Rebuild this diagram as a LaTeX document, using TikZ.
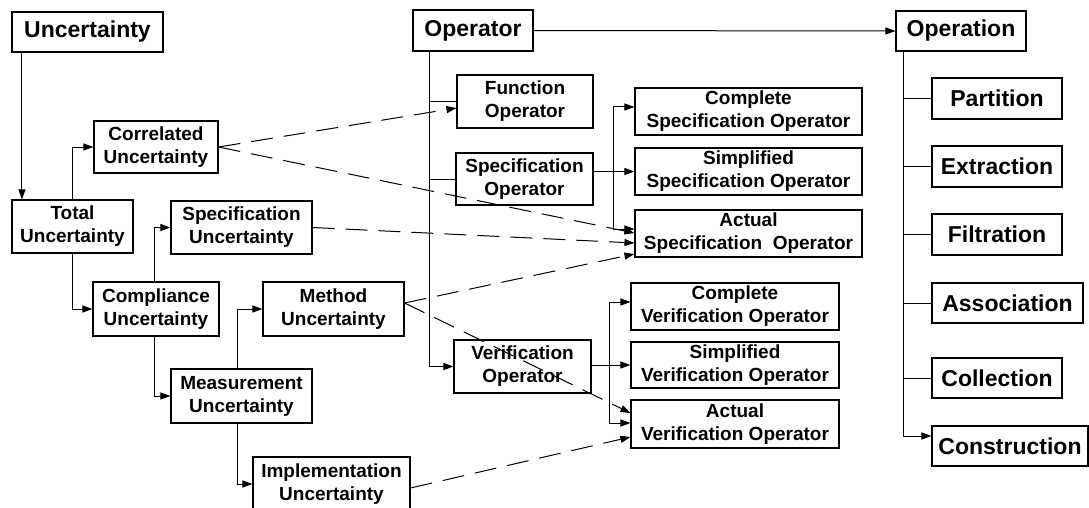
\documentclass[tikz,border=0pt]{standalone}
\usepackage{fontspec}
\setmainfont{Liberation Sans}
\usetikzlibrary{arrows.meta,calc}
\begin{document}
\begin{tikzpicture}[x=1pt,y=-1pt,
  box/.style={draw, line width=1.1pt, inner sep=0pt, align=center, fill=white,
    font=\bfseries\fontsize{19}{23}\selectfont},
  bigbox/.style={box, font=\bfseries\fontsize{23}{26}\selectfont},
  conn/.style={line width=1pt},
  arr/.style={conn, -{Triangle[length=10pt,width=7pt]}},
  darr/.style={arr, dash pattern=on 22pt off 11pt}
]
\useasboundingbox (0,0) rectangle (1089,508);
% top-level
\node[bigbox, minimum width=151pt, minimum height=40pt] (unc) at (87.5,32) {Uncertainty};
\node[bigbox, minimum width=120pt, minimum height=41pt] (op) at (473,30.5) {Operator};
\node[bigbox, minimum width=130pt, minimum height=40pt] (opn) at (961,31) {Operation};
% uncertainty tree
\node[box, minimum width=124pt, minimum height=52pt] (corr) at (156,147) {Correlated\\Uncertainty};
\node[box, minimum width=121pt, minimum height=53pt] (tot) at (72.5,226.5) {Total\\Uncertainty};
\node[box, minimum width=141pt, minimum height=53pt] (specu) at (241.5,227.5) {Specification\\Uncertainty};
\node[box, minimum width=126pt, minimum height=54pt] (comp) at (156,309) {Compliance\\Uncertainty};
\node[box, minimum width=141pt, minimum height=54pt] (meth) at (333.5,309) {Method\\Uncertainty};
\node[box, minimum width=141pt, minimum height=54pt] (meas) at (241.5,396) {Measurement\\Uncertainty};
\node[box, minimum width=157pt, minimum height=54pt] (impl) at (331.5,484) {Implementation\\Uncertainty};
% operator tree
\node[box, minimum width=136pt, minimum height=53pt] (fop) at (525,101.5) {Function\\Operator};
\node[box, minimum width=137pt, minimum height=52pt] (sop) at (524.5,179) {Specification\\Operator};
\node[box, minimum width=137pt, minimum height=53pt] (vop) at (522.5,366.5) {Verification\\Operator};
\node[box, minimum width=227pt, minimum height=47pt] (cso) at (748.5,111.5) {Complete\\Specification Operator};
\node[box, minimum width=227pt, minimum height=47pt] (sso) at (748.5,171.5) {Simplified\\Specification Operator};
\node[box, minimum width=227pt, minimum height=47pt] (aso) at (748.5,233.5) {Actual\\Specification\ \ Operator};
\node[box, minimum width=208pt, minimum height=47pt] (cvo) at (735,306.5) {Complete\\Verification Operator};
\node[box, minimum width=208pt, minimum height=46pt] (svo) at (735,365) {Simplified\\Verification Operator};
\node[box, minimum width=208pt, minimum height=48pt] (avo) at (735,424) {Actual\\Verification Operator};
% operation tree
\node[bigbox, minimum width=130pt, minimum height=41pt] (part) at (997,98.5) {Partition};
\node[bigbox, minimum width=130pt, minimum height=41pt] (extr) at (997,166.5) {Extraction};
\node[bigbox, minimum width=130pt, minimum height=41pt] (filt) at (997,234.5) {Filtration};
\node[bigbox, minimum width=151pt, minimum height=40pt] (assoc) at (1007.5,303) {Association};
\node[bigbox, minimum width=130pt, minimum height=40pt] (coll) at (997,378) {Collection};
\node[bigbox, minimum width=156pt, minimum height=40pt] (cons) at (1010,446) {Construction};

% uncertainty connectors
\draw[arr] ([xshift=10.5pt]unc.south west) -- ([xshift=10.5pt]tot.north west);
\draw[arr] (tot.north) |- (corr.west);
\draw[arr] (tot.south) |- (comp.west);
\draw[arr] ([xshift=-2pt]comp.north) |- (specu.west);
\draw[arr] ([xshift=-2pt]comp.south) |- (meas.west);
\draw[arr] ([xshift=-4.5pt]meas.north) |- (meth.west);
\draw[arr] ([xshift=-4.5pt]meas.south) |- (impl.west);

% operator connectors
\coordinate (otrunk) at ([xshift=17pt]op.south west);
\draw[arr] (otrunk) |- (vop.west);
\draw[conn] (otrunk |- fop.west) -- (fop.west);
\draw[conn] (otrunk |- sop.west) -- (sop.west);
\draw[arr] (sop.east |- sso.west) -- (sso.west);
\coordinate (sbr) at ($(sop.east |- sso.west)+(20,0)$);
\draw[arr] (sbr) |- ([yshift=4.5pt]cso.west);
\draw[arr] (sbr) |- ([yshift=4.5pt]aso.west);
\draw[arr] (vop.east |- svo.west) -- (svo.west);
\coordinate (vbr) at ($(vop.east |- svo.west)+(18,0)$);
\draw[arr] (vbr) |- ([yshift=4.5pt]cvo.west);
\draw[arr] (vbr) |- ([yshift=1pt]avo.west);
\draw[arr] (op.east) -- (opn.west);

% operation connectors
\coordinate (ptrunk) at ([xshift=8pt]opn.south west);
\draw[arr] (ptrunk) |- ([yshift=10pt]cons.west);
\foreach \n in {part,extr,filt,assoc,coll}
  \draw[conn] (ptrunk |- \n.west) -- (\n.west);

% dashed relations
\draw[darr] (corr.east) -- ([yshift=-6.5pt]fop.west);
\draw[darr] (corr.east) -- ([yshift=0.5pt]aso.west);
\draw[darr] (specu.east) -- ([yshift=-9.5pt]aso.west);
\draw[darr] ([yshift=6pt]meth.east) -- ([yshift=-20.5pt]aso.west);
\draw[darr] ([yshift=6pt]meth.east) -- ([yshift=11pt]avo.west);
\draw[darr] ([yshift=-4pt]impl.east) -- ([yshift=-13pt]avo.west);
\end{tikzpicture}
\end{document}
